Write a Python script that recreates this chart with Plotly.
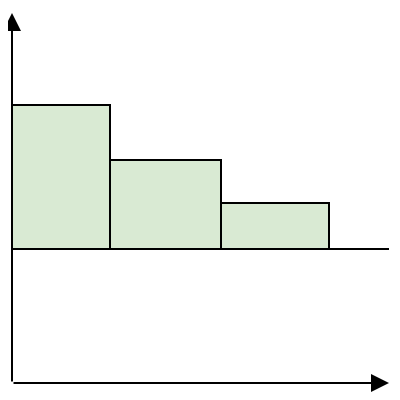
import plotly.graph_objects as go

# Bar data (arbitrary units, 1 unit = 10 px in the reference)
bar_left = [0.0, 9.8, 20.9]
bar_width = [9.8, 11.1, 10.8]
bar_height = [14.4, 8.9, 4.6]

x_end = 37.7      # end of x-axis arrow
y_top = 23.6      # end of y-axis arrow
y_bottom = -13.4  # level of the x-axis

centers = [l + w / 2 for l, w in zip(bar_left, bar_width)]

fig = go.Figure(go.Bar(
    x=centers,
    y=bar_height,
    width=bar_width,
    base=0,
    marker=dict(color='#d9ead3', line=dict(color='black', width=2)),
    hoverinfo='skip'
))

# Baseline through the bar bottoms
fig.add_shape(type='line', x0=0, y0=0, x1=x_end, y1=0,
              line=dict(color='black', width=2))

# Axes with arrowheads
fig.add_annotation(x=0, y=y_top, ax=0, ay=y_bottom, xref='x', yref='y',
                   axref='x', ayref='y', showarrow=True, arrowhead=2,
                   arrowsize=1.8, arrowwidth=2, arrowcolor='black', text='')
fig.add_annotation(x=x_end, y=y_bottom, ax=0, ay=y_bottom, xref='x', yref='y',
                   axref='x', ayref='y', showarrow=True, arrowhead=2,
                   arrowsize=1.8, arrowwidth=2, arrowcolor='black', text='')

# ranges shifted to make up for the page's 8 px body margin
fig.update_layout(
    width=400, height=400,
    margin=dict(l=0, r=0, t=0, b=0),
    plot_bgcolor='white', paper_bgcolor='white',
    showlegend=False,
    bargap=0,
    xaxis=dict(range=[-0.4, 39.6], visible=False, fixedrange=True),
    yaxis=dict(range=[-15.9, 24.1], visible=False, fixedrange=True),
)

fig.write_html('out.html')
